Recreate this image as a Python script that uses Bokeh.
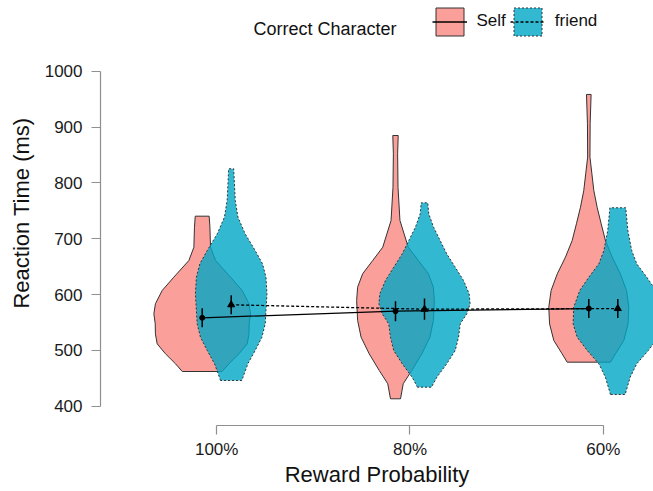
from bokeh.plotting import figure
from bokeh.models import ColumnDataSource, Range1d, FixedTicker, Label, Legend, LegendItem
from bokeh.embed import file_html
from bokeh.resources import INLINE

# ---------------- data ----------------
conditions = ["100%", "80%", "60%"]
cond_pos = [1, 2, 3]
dodge = 0.075

self_means = [558.3, 570.1, 574.9]
self_se = [17, 18, 17]
friend_means = [581.6, 573.7, 574.9]
friend_se = [17, 19, 17]

# violin outlines: RT levels (ms) and half-widths (category units), bottom -> top
self_100_rt = [462.1, 475.9, 493.8, 511.7, 529.6, 547.5, 565.5, 583.4, 607.2, 631.0, 660.9, 684.7, 720.6, 740.3]
self_100_hw = [0.103, 0.138, 0.190, 0.233, 0.242, 0.243, 0.250, 0.242, 0.207, 0.147, 0.069, 0.043, 0.040, 0.036]
self_80_rt = [413.2, 440.1, 463.9, 493.8, 523.5, 553.5, 589.3, 613.1, 637.1, 660.9, 684.7, 732.6, 792.2, 852.0, 884.8]
self_80_hw = [0.026, 0.040, 0.084, 0.136, 0.178, 0.196, 0.201, 0.196, 0.170, 0.118, 0.066, 0.023, 0.013, 0.011, 0.014]
self_60_rt = [478.8, 493.8, 517.6, 547.5, 577.3, 607.2, 637.1, 666.8, 696.7, 726.7, 756.4, 786.3, 816.2, 846.0, 905.8, 958.3]
self_60_hw = [0.112, 0.138, 0.181, 0.203, 0.207, 0.195, 0.163, 0.121, 0.086, 0.064, 0.043, 0.026, 0.016, 0.006, 0.007, 0.012]

friend_100_rt = [446.0, 475.9, 499.7, 523.6, 547.6, 571.4, 601.3, 631.0, 655.0, 678.8, 708.8, 738.5, 768.4, 825.2]
friend_100_hw = [0.055, 0.086, 0.124, 0.159, 0.176, 0.180, 0.185, 0.180, 0.162, 0.124, 0.072, 0.035, 0.021, 0.013]
friend_80_rt = [434.0, 451.9, 475.9, 499.7, 523.5, 547.5, 565.5, 583.4, 601.3, 625.1, 648.9, 672.9, 696.7, 720.6, 744.6, 764.3]
friend_80_hw = [0.036, 0.064, 0.115, 0.159, 0.176, 0.185, 0.219, 0.236, 0.231, 0.202, 0.159, 0.115, 0.081, 0.047, 0.022, 0.017]
friend_60_rt = [420.9, 451.9, 475.9, 499.7, 523.5, 547.5, 577.3, 607.2, 631.0, 655.0, 678.8, 714.7, 755.3]
friend_60_hw = [0.038, 0.064, 0.098, 0.158, 0.210, 0.231, 0.228, 0.197, 0.150, 0.098, 0.072, 0.052, 0.041]

self_violins = [(self_100_rt, self_100_hw), (self_80_rt, self_80_hw), (self_60_rt, self_60_hw)]
friend_violins = [(friend_100_rt, friend_100_hw), (friend_80_rt, friend_80_hw), (friend_60_rt, friend_60_hw)]

SELF_FILL = "#F8766D"
FRIEND_FILL = "#00A6C6"
OUTLINE = "#333333"
FONT = "Liberation Sans"


def violin_source(violins, offset):
    xs, ys = [], []
    for pos, (rt, hw) in zip(cond_pos, violins):
        c = pos + offset
        xs.append([c - w for w in hw] + [c + w for w in reversed(hw)])
        ys.append(list(rt) + list(reversed(rt)))
    return ColumnDataSource(dict(xs=xs, ys=ys))


def mean_source(means, se, offset):
    x = [c + offset for c in cond_pos]
    return ColumnDataSource(dict(x=x, m=means,
                                 lo=[m - s for m, s in zip(means, se)],
                                 hi=[m + s for m, s in zip(means, se)]))


p = figure(width=653, height=491,
           x_range=Range1d(0.3989, 3.2597), y_range=Range1d(365.4, 1126.6),
           output_backend="svg", toolbar_location=None,
           min_border_left=100, min_border_right=0, min_border_top=0, min_border_bottom=66)
p.xgrid.visible = False
p.ygrid.visible = False
p.outline_line_color = None
p.background_fill_color = "white"
p.border_fill_color = "white"

# violins
self_v = p.patches("xs", "ys", source=violin_source(self_violins, -dodge),
                   fill_color=SELF_FILL, fill_alpha=0.7, line_color=OUTLINE, line_width=1)
friend_v = p.patches("xs", "ys", source=violin_source(friend_violins, dodge),
                     fill_color=FRIEND_FILL, fill_alpha=0.8, line_color=OUTLINE, line_width=1,
                     line_dash="2 2")

# means, lines and error bars
s_src = mean_source(self_means, self_se, -dodge)
f_src = mean_source(friend_means, friend_se, dodge)
self_line = p.line("x", "m", source=s_src, line_color="black", line_width=1.3)
friend_line = p.line("x", "m", source=f_src, line_color="black", line_width=1.3, line_dash="3 2")
p.segment("x", "lo", "x", "hi", source=s_src, line_color="black", line_width=1.5)
p.segment("x", "lo", "x", "hi", source=f_src, line_color="black", line_width=1.5)
p.scatter("x", "m", source=s_src, marker="circle", size=5, color="black")
p.scatter("x", "m", source=f_src, marker="triangle", size=7, color="black")

# legend-only markers (empty)
self_key = p.scatter([], [], marker="dot", size=14, color="black")
friend_key = p.scatter([], [], marker="dot", size=14, color="black")

# axes
p.xaxis.ticker = FixedTicker(ticks=cond_pos)
p.xaxis.major_label_overrides = {pos: lab for pos, lab in zip(cond_pos, conditions)}
p.xaxis.bounds = (1, 3)
p.yaxis.ticker = FixedTicker(ticks=[400, 500, 600, 700, 800, 900, 1000])
p.yaxis.bounds = (400, 1000)
for ax in (p.xaxis[0], p.yaxis[0]):
    ax.axis_line_color = "#8f8f8f"
    ax.axis_line_width = 1.2
    ax.major_tick_line_color = "#8f8f8f"
    ax.major_tick_line_width = 1.2
    ax.major_tick_out = 9
    ax.major_tick_in = 0
    ax.minor_tick_line_color = None
    ax.major_label_text_font = FONT
    ax.major_label_text_font_size = "17px"
    ax.major_label_text_color = "#1a1a1a"
    ax.axis_label_text_font = FONT
    ax.axis_label_text_font_size = "22px"
    ax.axis_label_text_font_style = "normal"
    ax.axis_label_text_color = "#111111"
p.xaxis.major_label_standoff = 5
p.yaxis.major_label_standoff = 9
p.yaxis.axis_label = "Reaction Time (ms)"
p.yaxis.axis_label_standoff = 8
p.xaxis.axis_label = "Reward Probability"
p.xaxis.axis_label_standoff = 0

# legend
p.add_layout(Label(x=153, y=397, x_units="screen", y_units="screen", text="Correct Character",
                   text_font=FONT, text_font_size="18px", text_color="#111111",
                   text_align="left", text_baseline="alphabetic"))
legend = Legend(items=[LegendItem(label="Self", renderers=[self_v, self_line, self_key]),
                       LegendItem(label="friend", renderers=[friend_v, friend_line, friend_key])],
                location=(331.5, 386.5), orientation="horizontal",
                glyph_width=35, glyph_height=35, label_standoff=10, spacing=4,
                padding=0, margin=0, border_line_color=None, background_fill_alpha=0,
                label_text_font=FONT, label_text_font_size="17px", label_text_color="#111111")
p.add_layout(legend)

open("out.html", "w").write(file_html(p, INLINE))
